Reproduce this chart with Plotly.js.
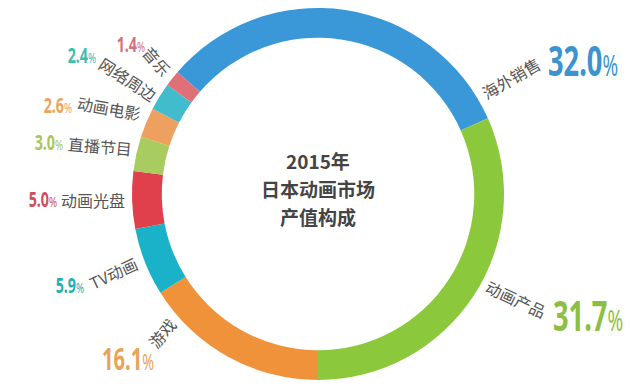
<!DOCTYPE html>
<html><head><meta charset="utf-8">
<script src="https://cdn.plot.ly/plotly-3.0.1.min.js"></script>
<style>html,body{margin:0;padding:0;background:#fff}#chart{width:640px;height:389px}</style>
</head><body><div id="chart"></div>
<script>
// Data (clockwise from 海外销售)
const categories = ['海外销售','动画产品','游戏','TV动画','动画光盘','直播节目','动画电影','网络周边','音乐'];
const shares = [32.0, 31.7, 16.1, 5.9, 5.0, 3.0, 2.6, 2.4, 1.4];
const percentLabels = ['32.0','31.7','16.1','5.9','5.0','3.0','2.6','2.4','1.4'];
const centerTitle = ['2015年','日本动画市场','产值构成'];

// Styles
const colors = ['#3a98d8','#8cc83c','#f0923a','#1ab2c8','#e0404c','#a8cc60','#eea060','#40bccc','#e07078'];
const pctColors = ['#3b93cf','#8dbf45','#e8a45a','#1fb0b6','#d24c5e','#a9c562','#e9a560','#3dbcb3','#d8707c'];
// label placement (px, from top-left) : [pctX, pctY, pctSize, nameX, nameY, nameAngle]
const place = [
  [583, 60, 42, 511, 78, -30],
  [588, 314, 42, 516, 299, 25],
  [128, 358, 31, 162, 333, -50],
  [70, 284, 22, 113, 273, -25],
  [43, 198, 22, 93, 200, 0],
  [49, 141, 22, 100, 146, 5],
  [58, 104, 22, 109, 108, 10],
  [82, 54, 22, 128, 79, 33],
  [131, 43, 22, 157, 61, 50]
];
const titleY = [160, 188, 217];
const W = 640, H = 389;
const cx = 318, cy = 194, R = 186;
const condense = 0.65;

const annotations = [];
const pctIdx = [];
categories.forEach((c, i) => {
  const p = place[i];
  pctIdx.push(annotations.length);
  annotations.push({
    xref: 'paper', yref: 'paper', x: p[0] / W, y: 1 - p[1] / H,
    xanchor: 'center', yanchor: 'middle', showarrow: false,
    text: '<b>' + percentLabels[i] + '</b><span style="font-size:' + Math.round(p[2] * 0.7) + 'px">%</span>',
    font: {family: '"Noto Sans",sans-serif', size: p[2], color: pctColors[i]}
  });
  annotations.push({
    xref: 'paper', yref: 'paper', x: p[3] / W, y: 1 - p[4] / H,
    xanchor: 'center', yanchor: 'middle', showarrow: false, textangle: p[5],
    text: c,
    font: {family: '"Noto Sans CJK SC",sans-serif', size: 16, color: '#555555'}
  });
});
centerTitle.forEach((t, k) => {
  annotations.push({
    xref: 'paper', yref: 'paper', x: cx / W, y: 1 - titleY[k] / H,
    xanchor: 'center', yanchor: 'middle', showarrow: false,
    text: '<b>' + t + '</b>',
    font: {family: '"Noto Sans CJK SC",sans-serif', size: 19, color: '#444444'}
  });
});

const total = shares.reduce((a, b) => a + b, 0);
// first slice starts so that 动画产品 ends at 6 o'clock
const rotation = 180 - (shares[0] + shares[1]) / total * 360;

Plotly.newPlot('chart', [{
  type: 'pie',
  labels: categories,
  values: shares,
  sort: false,
  direction: 'clockwise',
  rotation: rotation,
  hole: 0.84,
  textinfo: 'none',
  hoverinfo: 'label+percent',
  marker: {colors: colors, line: {width: 0}},
  domain: {x: [(cx - R) / W, (cx + R) / W], y: [(H - cy - R) / H, (H - cy + R) / H]},
  showlegend: false
}], {
  width: W, height: H,
  margin: {l: 0, r: 0, t: 0, b: 0},
  paper_bgcolor: '#ffffff',
  annotations: annotations
}, {displayModeBar: false, staticPlot: true}).then(gd => {
  pctIdx.forEach(k => {
    const t = gd.querySelector('g.annotation[data-index="' + k + '"] text.annotation-text');
    if (t) {
      t.style.transformBox = 'fill-box';
      t.style.transformOrigin = 'center';
      t.style.transform = 'scaleX(' + condense + ')';
    }
  });
});
</script></body></html>
